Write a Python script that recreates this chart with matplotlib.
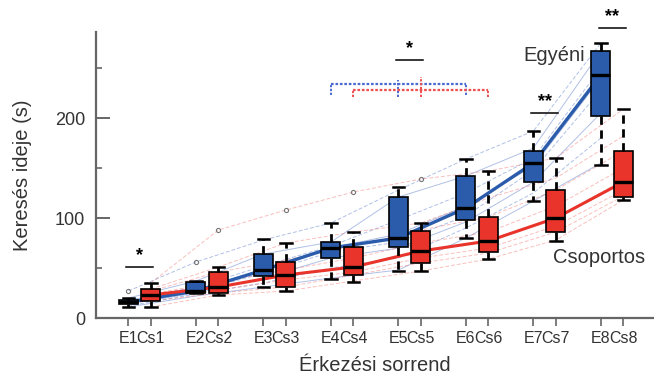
import numpy as np
import matplotlib
matplotlib.use('Agg')
import matplotlib.pyplot as plt

plt.rcParams['font.family'] = ['Liberation Sans', 'DejaVu Sans']

rounds = [1, 2, 3, 4, 5, 6, 7, 8]

# box statistics (seconds)
ind_q1 = [14, 25, 42, 60, 71, 98, 136, 202]
ind_med = [16, 27, 48, 70, 80, 110, 155, 243]
ind_q3 = [18, 36, 64, 76, 121, 142, 167, 267]
ind_lo = [11, 25, 31, 39, 47, 80, 117, 153]
ind_hi = [20, 37, 79, 95, 131, 159, 187, 275]
ind_fliers = [[27], [56], [], [], [], [], [], []]

grp_q1 = [17, 25, 31, 43, 55, 66, 86, 121]
grp_med = [23, 31, 43, 51, 67, 77, 100, 136]
grp_q3 = [29, 46, 56, 71, 87, 101, 128, 167]
grp_lo = [11, 23, 27, 36, 47, 59, 77, 118]
grp_hi = [35, 51, 75, 86, 95, 147, 160, 209]
grp_fliers = [[], [88], [108], [126], [139], [], [], []]

# individual trajectories (thin lines)
ind_people = [
    [27, 56, 78, 95, 128, 159, 187, 275],
    [20, 37, 64, 76, 121, 142, 170, 267],
    [18, 31, 52, 72, 98, 125, 160, 250],
    [16, 28, 48, 70, 84, 112, 152, 240],
    [15, 26, 45, 66, 76, 102, 148, 228],
    [14, 25, 40, 60, 70, 96, 136, 205],
    [12, 24, 35, 50, 60, 90, 125, 180],
    [11, 22, 31, 40, 48, 80, 117, 155],
]
grp_people = [
    [35, 88, 108, 126, 139, 147, 160, 209],
    [29, 51, 75, 86, 95, 120, 140, 182],
    [27, 46, 58, 72, 88, 101, 128, 167],
    [24, 36, 48, 60, 75, 86, 112, 150],
    [22, 31, 43, 51, 66, 78, 100, 138],
    [20, 28, 38, 46, 60, 70, 92, 128],
    [17, 25, 31, 43, 55, 65, 86, 122],
    [11, 23, 27, 37, 47, 59, 78, 118],
]

blue = '#2b5cab'
red = '#e8342a'

pos_e = [3 * r for r in rounds]
pos_c = [3 * r + 1 for r in rounds]

fig = plt.figure(figsize=(6.54, 3.74), dpi=100)
ax = fig.add_axes([0.1468, 0.1497, 0.8532, 0.7647])

for i, p in enumerate(ind_people):
    ax.plot(pos_e, p, color='#3a63c0', lw=0.7, alpha=0.4,
            ls='-' if i % 2 else (0, (4, 2)), zorder=1)
for p in grp_people:
    ax.plot(pos_c, p, color='#f0605a', lw=0.7, alpha=0.4,
            ls=(0, (4, 2)), zorder=1)

ax.plot(pos_e, ind_med, color=blue, lw=2.4, zorder=2)
ax.plot(pos_c, grp_med, color=red, lw=2.2, zorder=2)


def stats(q1, med, q3, lo, hi, fl):
    return [dict(q1=a, med=b, q3=c, whislo=d, whishi=e, fliers=f)
            for a, b, c, d, e, f in zip(q1, med, q3, lo, hi, fl)]


common = dict(widths=0.84, capwidths=0.5, patch_artist=True, manage_ticks=False,
              whiskerprops=dict(color='black', lw=2, ls=(0, (3, 2))),
              capprops=dict(color='black', lw=1.8),
              medianprops=dict(color='black', lw=2.4),
              flierprops=dict(marker='o', ms=3, mfc='none', mec='#777777', mew=0.8),
              zorder=3)
b1 = ax.bxp(stats(ind_q1, ind_med, ind_q3, ind_lo, ind_hi, ind_fliers),
            positions=pos_e, boxprops=dict(facecolor=blue, edgecolor='black', lw=1.2), **common)
b2 = ax.bxp(stats(grp_q1, grp_med, grp_q3, grp_lo, grp_hi, grp_fliers),
            positions=pos_c, boxprops=dict(facecolor=red, edgecolor='black', lw=1.2), **common)

# significance marks
sig = [(1, 51, '*'), (5, 258, '*'), (7, 205, '**'), (8, 290, '**')]
for r, y, s in sig:
    ax.plot([3 * r - 0.1, 3 * r + 1.1], [y, y], color='black', lw=1.1, clip_on=False, zorder=4)
    ax.text(3 * r + 0.5, y + 3, s, ha='center', va='bottom', fontsize=13,
            fontweight='bold', clip_on=False)

# dashed brackets
ax.plot([pos_e[3], pos_e[5]], [234, 234], color='#4a6ad0', lw=1.6, ls=(0, (1.2, 0.8)), zorder=2)
for x in [pos_e[3], pos_e[5]]:
    ax.plot([x, x], [223, 234], color='#4a6ad0', lw=1.4, ls=(0, (1.2, 0.8)))
ax.plot([pos_e[4], pos_e[4]], [221, 238], color='#4a6ad0', lw=1.4, ls=(0, (1.2, 0.8)))
ax.plot([pos_c[3], pos_c[5]], [228.5, 228.5], color='#ee5050', lw=1.6, ls=(0, (1.2, 0.8)), zorder=2)
for x in [pos_c[3], pos_c[5]]:
    ax.plot([x, x], [221, 228.5], color='#ee5050', lw=1.4, ls=(0, (1.2, 0.8)))
ax.plot([pos_c[4], pos_c[4]], [221, 241], color='#ee5050', lw=1.4, ls=(0, (1.2, 0.8)))

ax.text(21.94, 263, 'Egyéni', fontsize=14.5, color='#333333', ha='center', va='center')
ax.text(23.9, 61, 'Csoportos', fontsize=14.5, color='#333333', ha='center', va='center')

ax.set_xlim(1.56, 26.36)
ax.set_ylim(0, 286)

ticks = []
labels = []
for r in rounds:
    ticks += [3 * r, 3 * r + 1]
    labels += [f'E{r}', f'Cs{r}']
ax.set_xticks(ticks)
ax.set_xticklabels(labels)
ax.set_yticks([0, 100, 200])
ax.set_yticks([50, 150, 250], minor=True)

for s in ['top', 'right']:
    ax.spines[s].set_visible(False)
for s in ['left', 'bottom']:
    ax.spines[s].set_color('#666666')
    ax.spines[s].set_linewidth(1.6)

ax.tick_params(axis='y', which='major', direction='in', length=10, width=1.4,
               color='#666666', labelsize=13, labelcolor='#333333', pad=8)
ax.tick_params(axis='y', which='minor', direction='in', length=4.5, width=1.2, color='#666666')
ax.tick_params(axis='x', direction='out', length=5.5, width=1.2, color='#666666',
               labelsize=11.5, labelcolor='#333333', pad=4)

ax.set_ylabel('Keresés ideje (s)', fontsize=14.5, color='#333333', labelpad=16)
ax.set_xlabel('Érkezési sorrend', fontsize=14.5, color='#333333', labelpad=7)

fig.savefig('out.png', dpi=100)
